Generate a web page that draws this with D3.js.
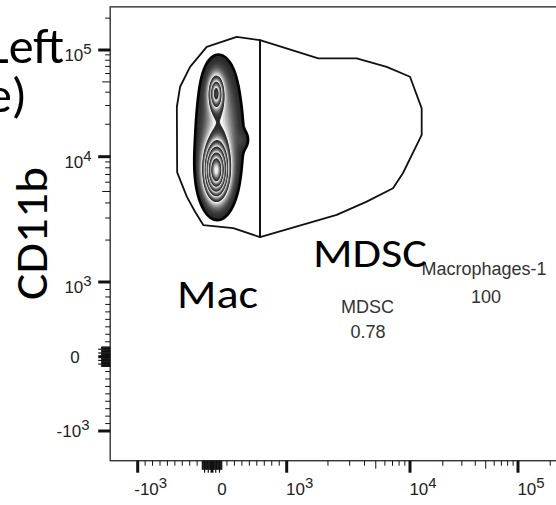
<!DOCTYPE html>
<html><head><meta charset="utf-8">
<script src="https://cdn.jsdelivr.net/npm/d3@7"></script>
<style>html,body{margin:0;padding:0;background:#fff;overflow:hidden}</style>
</head><body>
<svg id="c" width="556" height="505"></svg>
<script>
// ---------------- data ----------------
const axisMajorValues = [-1000, 0, 1000, 10000, 100000];
const axisTickLabels = ["-10^3", "0", "10^3", "10^4", "10^5"];
const xDomainLimits = [-1370, 256000];
const yDomainLimits = [-1400, 256000];

// gate polygons (x value, CD11b value)
const macGateX = [643, 331, -71, -295, -429, -473, -469, -339, -228, -117, 285, 643];
const macGateY = [124000, 133000, 107000, 69400, 45000, 29200, 7300, 4520, 3380, 2630, 2480, 2110];
const mdscGateX = [643, 1683, 3436, 6223, 10000, 12785, 12785, 8668, 7070, 4177, 2348, 643];
const mdscGateY = [124000, 83400, 83400, 69400, 55900, 28200, 15900, 7210, 5320, 4100, 3180, 2110];

const gateNames = ["Macrophages-1", "MDSC"];
const gateFreqs = ["100", "0.78"];

// cell population clusters
const popX = [54, 54, 94, 94, 107, 429];
const popY = [39500, 7500, 41900, 7970, 17700, 14300];
const popSdX = [0.067, 0.107, 0.188, 0.2, 0.2, 0.054];   // spread in display decades
const popSdY = [0.164, 0.235, 0.384, 0.444, 0.333, 0.082];
const popW = [0.5, 1.0, 0.18, 0.2, 0.15, 0.06];
const contourLevels = [0.069, 0.28, 0.42, 0.55, 0.7, 0.85];

const overlayLabels = ["Mac", "MDSC"];
const axisTitle = "CD11b";
const sideText = ["Left", "e)"];

// ---------------- scales ----------------
function T(v) { return v <= 1000 ? v / 1000 : 1 + 1.447 * Math.log10((v - 280) / 720); }

const x = d3.scaleLinear().domain(axisMajorValues.map(T)).range([137.7, 212, 286.7, 410, 518]);
const y = d3.scaleLinear().domain(axisMajorValues.map(T)).range([431, 356.7, 282, 156.7, 50]);

const svg = d3.select("#c");
const pL = x(T(xDomainLimits[0])), pR = x(T(xDomainLimits[1]));
const pB = y(T(yDomainLimits[0])), pT = y(T(yDomainLimits[1]));

// ---------------- density contours ----------------
const step = 0.01, gx0 = -0.9, gx1 = 1.4, gy0 = 1.2, gy1 = 4.4;
const nx = Math.round((gx1 - gx0) / step) + 1, ny = Math.round((gy1 - gy0) / step) + 1;
const comps = popX.map((v, i) => ({ mx: T(v), my: T(popY[i]), sx: popSdX[i], sy: popSdY[i], w: popW[i] }));
const grid = new Float64Array(nx * ny);
let gmax = 0;
for (let j = 0; j < ny; j++) {
  const ty = gy0 + j * step;
  for (let i = 0; i < nx; i++) {
    const tx = gx0 + i * step;
    let s = 0;
    for (const c of comps) {
      const a = (tx - c.mx) / c.sx, b = (ty - c.my) / c.sy;
      s += c.w * Math.exp(-0.5 * (a * a + b * b));
    }
    grid[j * nx + i] = s;
    if (s > gmax) gmax = s;
  }
}
for (let k = 0; k < grid.length; k++) grid[k] /= gmax;

const proj = d3.geoTransform({
  point(px, py) { this.stream.point(x(gx0 + (px - 0.5) * step), y(gy0 + (py - 0.5) * step)); }
});
const gpath = d3.geoPath(proj);
const contourGen = d3.contours().size([nx, ny]);

// zebra shading: each band starts dark at its outer edge and lightens inward
const sub = 12;
const shadeC = d3.scaleLinear().domain([0, 1]).range(["#2a2a2a", "#f4f4f4"]);
const gBlob = svg.append("g");
const allLevels = contourLevels.concat([1.0001]);
for (let b = 0; b < contourLevels.length; b++) {
  const lo = allLevels[b], hi = allLevels[b + 1];
  for (let s = 0; s < sub; s++) {
    const lv = lo + (hi - lo) * s / sub;
    const c = contourGen.contour(grid, lv);
    gBlob.append("path").attr("d", gpath(c)).attr("fill", shadeC(Math.pow(s / (sub - 1), 1.5))).attr("stroke", "none");
  }
}
gBlob.append("path").attr("d", gpath(contourGen.contour(grid, contourLevels[0])))
  .attr("fill", "none").attr("stroke", "#000").attr("stroke-width", 2.6).attr("stroke-linejoin", "round");

// ---------------- gates ----------------
const gateLine = d3.line().x(d => x(T(d[0]))).y(d => y(T(d[1]))).curve(d3.curveLinearClosed);
[[macGateX, macGateY], [mdscGateX, mdscGateY]].forEach(([gx, gy]) => {
  svg.append("path").attr("d", gateLine(gx.map((v, i) => [v, gy[i]])))
    .attr("fill", "none").attr("stroke", "#111").attr("stroke-width", 1.8).attr("stroke-linejoin", "round");
});

// ---------------- frame & axes ----------------
svg.append("rect").attr("x", pL).attr("y", pT).attr("width", pR - pL).attr("height", pB - pT)
  .attr("fill", "none").attr("stroke", "#333").attr("stroke-width", 1.4);

function tickSet() {
  const t = [];
  axisMajorValues.forEach(v => t.push({ v, len: 12, w: 3 }));
  for (let k = 1; k <= 9; k++) { t.push({ v: k * 100, len: 5, w: 1 }); t.push({ v: -k * 100, len: 5, w: 1 }); }
  for (let k = -130; k <= 130; k += 10) if (k !== 0) t.push({ v: k, len: (k % 50 === 0) ? 12 : 9, w: 1.2 });
  [1000, 10000].forEach(d => { for (let k = 2; k <= 9; k++) t.push({ v: k * d, len: k === 5 ? 8 : 5, w: 1 }); });
  t.push({ v: 200000, len: 5, w: 1 });
  return t;
}
const ticks = tickSet();
const gAx = svg.append("g").attr("stroke", "#111");
ticks.forEach(t => {
  const px = x(T(t.v));
  if (px > pL + 1 && px < 560)
    gAx.append("line").attr("x1", px).attr("x2", px).attr("y1", pB).attr("y2", pB + t.len).attr("stroke-width", t.w);
  const py = y(T(t.v));
  if (py < pB - 1 && py > pT + 1)
    gAx.append("line").attr("y1", py).attr("y2", py).attr("x1", pL).attr("x2", pL - t.len).attr("stroke-width", t.w);
});

function powLabel(g, lab, cx, by, anchor, size) {
  const parts = lab.split("^");
  const t = g.append("text").attr("x", cx).attr("y", by).attr("text-anchor", anchor)
    .attr("font-family", "'Liberation Sans Narrow','Liberation Sans',Arial,sans-serif")
    .attr("font-size", size).attr("fill", "#222");
  t.append("tspan").text(parts[0]);
  if (parts[1]) t.append("tspan").attr("dy", -7).attr("font-size", size * 0.88).text(parts[1]);
}
const gLab = svg.append("g");
axisMajorValues.forEach((v, i) => {
  const lab = axisTickLabels[i];
  const px = x(T(v));
  powLabel(gLab, lab, px + (lab === "0" ? 10 : 13), 495, "middle", 17);
  const py = y(T(v));
  const isPow = lab.indexOf("^") >= 0;
  const neg = lab[0] === "-";
  powLabel(gLab, lab, neg ? 73 : (isPow ? 78 : 75), py + (isPow && !neg ? 11 : 6), "middle", 17);
});

// ---------------- gate statistics ----------------
const statFont = "'Liberation Sans',Arial,sans-serif";
const statPos = [[484, 275, 486, 303], [367.5, 313, 368, 338]];
gateNames.forEach((n, i) => {
  const p = statPos[i];
  svg.append("text").attr("x", p[0]).attr("y", p[1]).attr("text-anchor", "middle")
    .attr("font-family", statFont).attr("font-size", 18).attr("fill", "#333").text(n);
  svg.append("text").attr("x", p[2]).attr("y", p[3]).attr("text-anchor", "middle")
    .attr("font-family", statFont).attr("font-size", 18).attr("fill", "#333").text(gateFreqs[i]);
});

// ---------------- big overlay text ----------------
const bigFont = "Calibri, Carlito, Lato, sans-serif";
svg.append("text").attr("x", 177).attr("y", 308).attr("font-family", bigFont).attr("font-size", 42)
  .attr("textLength", 81).attr("lengthAdjust", "spacingAndGlyphs").attr("fill", "#000").text(overlayLabels[0]);
svg.append("text").attr("x", 313).attr("y", 266.7).attr("font-family", bigFont).attr("font-size", 42)
  .attr("textLength", 114).attr("lengthAdjust", "spacingAndGlyphs").attr("fill", "#000").text(overlayLabels[1]);
svg.append("text").attr("transform", "translate(47,300) rotate(-90)").attr("font-family", bigFont)
  .attr("font-size", 46).attr("textLength", 133).attr("lengthAdjust", "spacingAndGlyphs").attr("fill", "#000").text(axisTitle);
svg.append("text").attr("x", 64).attr("y", 63).attr("text-anchor", "end").attr("font-family", bigFont)
  .attr("font-size", 50).attr("fill", "#000").text(sideText[0]);
svg.append("text").attr("x", 27).attr("y", 112).attr("text-anchor", "end").attr("font-family", bigFont)
  .attr("font-size", 50).attr("fill", "#000").text(sideText[1]);
</script>
</body></html>
